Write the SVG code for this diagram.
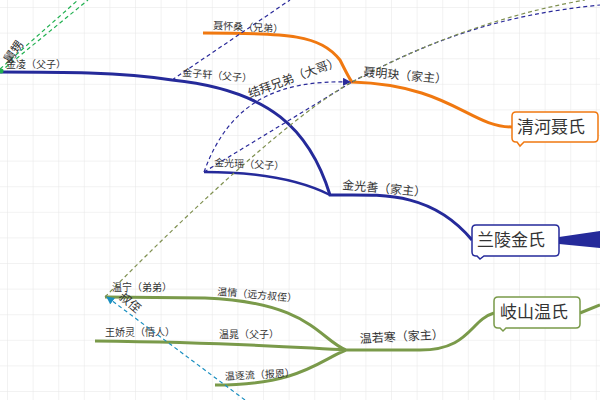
<svg xmlns="http://www.w3.org/2000/svg" width="600" height="400" viewBox="0 0 600 400">
<style>
text{font-family:"Noto Sans CJK SC","Liberation Sans",sans-serif;fill:#333}
.s{font-size:10px}.m{font-size:12px}.b{font-size:17px}
.dash{fill:none;stroke-width:1.2;stroke-dasharray:4 3}
</style>
<defs>
<pattern id="g" width="25.6" height="25.6" patternUnits="userSpaceOnUse" x="8" y="8"><path d="M25.6 0V25.6H0" fill="none" stroke="#e6e6e6" stroke-width="1"/></pattern>
<marker id="ab" markerWidth="8" markerHeight="8" refX="7" refY="4" orient="auto" markerUnits="userSpaceOnUse"><path d="M0 0L8 4L0 8z" fill="#2a2a9a"/></marker>
<marker id="ac" markerWidth="8" markerHeight="8" refX="7" refY="4" orient="auto" markerUnits="userSpaceOnUse"><path d="M0 0L8 4L0 8z" fill="#1a8fc0"/></marker>
</defs>
<rect width="600" height="400" fill="#fff"/>
<rect width="600" height="400" fill="url(#g)"/>
<g id="connectors">
<path d="M512 127C470 127 450 85 352 82C350 80 345 70 340 60C320 35 290 33 203 33" fill="none" stroke="#f07810" stroke-width="3"/>
<path d="M472 240C430 190 380 195 330 195C310 130 270 90 172 80C120 72 60 72 0 72" fill="none" stroke="#252a9a" stroke-width="3"/>
<path d="M330 195C300 180 260 172 204 172" fill="none" stroke="#252a9a" stroke-width="2.5"/>
<path d="M559 237L600 231L600 248L559 244Z" fill="#252a9a"/>
<path d="M494 313C470 320 470 350 420 350L346 350C320 340 310 302 205 298L105 297M346 350C300 348 260 343 95 341M346 350C320 360 300 385 215 385" fill="none" stroke="#7a9a4a" stroke-width="3"/>
<path d="M580 313L600 305" stroke="#7a9a4a" stroke-width="3"/>
<path class="dash" d="M0 72L88 0M0 69L78 0" stroke="#20b050"/>
<path class="dash" d="M172 80L290 0" stroke="#2a2a9a"/>
<path class="dash" d="M204 172L352 82" stroke="#2a2a9a"/>
<path class="dash" d="M204 172C230 100 280 80 350 82" stroke="#2a2a9a" marker-end="url(#ab)"/>
<path class="dash" d="M352 82C430 40 500 15 600 5" stroke="#2a2a9a"/>
<path class="dash" d="M105 297C200 200 300 110 352 82C420 45 500 15 585 0" stroke="#7f9050"/>
<path class="dash" d="M245 400L107 297" stroke="#1a8fc0" marker-end="url(#ac)"/>
<circle cx="1" cy="71" r="2.5" fill="#20b050"/>
<text class="m" transform="translate(10 64) rotate(-55)">舅甥</text>
<text class="m" transform="translate(250 98) rotate(-20)">结拜兄弟（大哥）</text>
<text class="m" transform="translate(118 298) rotate(40)">叔侄</text>
</g>
<g id="nie"><path d="M516 112H594Q598 112 598 116V138Q598 142 594 142H524L520 146L517 142H516Q512 142 512 138V116Q512 112 516 112Z" fill="#fff" stroke="#f07810" stroke-width="1.5"/><text class="b" x="517" y="133">清河聂氏</text></g>
<g id="jin"><path d="M476 225H555Q559 225 559 229V252Q559 256 555 256H484L480 259L477 256H476Q472 256 472 252V229Q472 225 476 225Z" fill="#fff" stroke="#252a9a" stroke-width="1.5"/><text class="b" x="477" y="246">兰陵金氏</text></g>
<g id="wen"><path d="M498 297H576Q580 297 580 301V324Q580 328 576 328H506L503 331L500 328H498Q494 328 494 324V301Q494 297 498 297Z" fill="#fff" stroke="#7a9a4a" stroke-width="1.5"/><text class="b" x="500" y="318">岐山温氏</text></g>
<g id="n1"><text class="m" transform="translate(363 76) rotate(5)">聂明玦（家主）</text></g>
<g id="n2"><text class="s" transform="translate(213 29) rotate(3)">聂怀桑（兄弟）</text></g>
<g id="n3"><text class="m" transform="translate(342 189) rotate(5)">金光善（家主）</text></g>
<g id="n4"><text class="s" transform="translate(182 76) rotate(5)">金子轩（父子）</text></g>
<g id="n5"><text class="s" x="6" y="68">金凌（父子）</text></g>
<g id="n6"><text class="s" transform="translate(214 166) rotate(3)">金光瑶（父子）</text></g>
<g id="n7"><text class="m" transform="translate(360 343) rotate(-3)">温若寒（家主）</text></g>
<g id="n8"><text class="s" transform="translate(217 295) rotate(5)">温情（远方叔侄）</text></g>
<g id="n9"><text class="s" x="219" y="338">温晁（父子）</text></g>
<g id="n10"><text class="s" transform="translate(225 380) rotate(-3)">温逐流（报恩）</text></g>
<g id="n11"><text class="s" x="112" y="291">温宁（弟弟）</text></g>
<g id="n12"><text class="s" x="105" y="336">王娇灵（情人）</text></g>
</svg>
